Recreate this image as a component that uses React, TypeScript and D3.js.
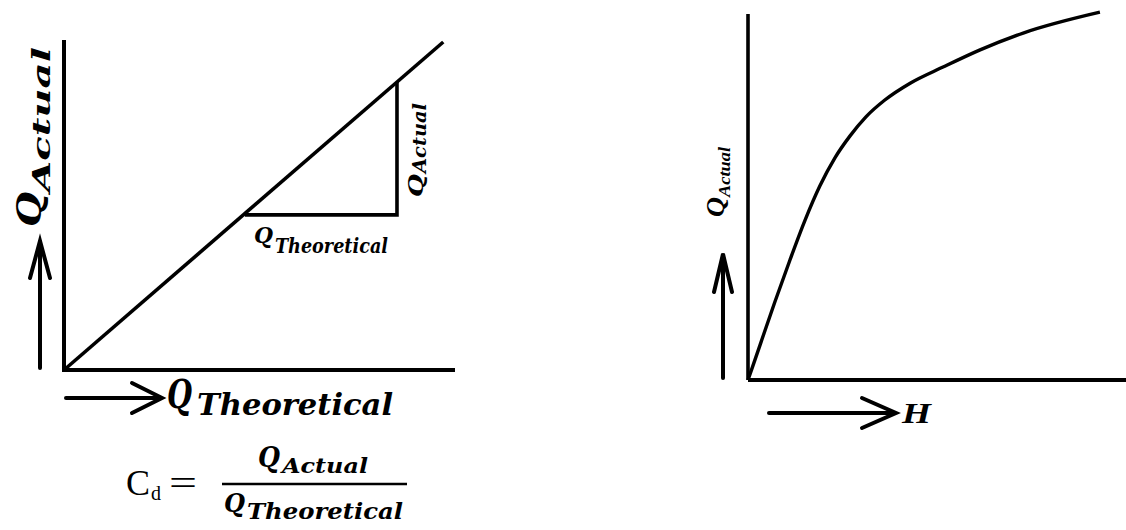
import React from "react";
import * as d3 from "d3";

// Left chart: Q_actual vs Q_theoretical (straight line through origin)
const lineTheoretical = [0, 97.5];
const lineActual = [0, 100];
// slope triangle
const triTheoretical = [46.5, 85.6, 85.6];
const triActual = [47.3, 47.3, 87.8];

// Right chart: Q_actual vs H
const headH = [0, 3.2, 7.1, 11.1, 15.1, 19.0, 23.0, 27.0, 31.2, 36.2, 42.9, 51.6, 61.4, 72.8, 93.1];
const flowQ = [0, 9.6, 21.3, 32.8, 43.7, 53.0, 60.7, 66.7, 71.9, 76.5, 81.1, 85.5, 90.2, 94.8, 100.5];

const MATH = "'DejaVu Serif', serif";
const TIMES = "'Liberation Serif', 'Times New Roman', serif";

export default function App() {
  const W = 1126, H = 530;
  const xL = d3.scaleLinear().domain([0, 100]).range([64, 453]);
  const yL = d3.scaleLinear().domain([0, 100]).range([370, 42]);
  const xR = d3.scaleLinear().domain([0, 100]).range([748, 1126]);
  const yR = d3.scaleLinear().domain([0, 100]).range([380, 14]);

  const lineGen = d3.line<[number, number]>().x(d => xL(d[0])).y(d => yL(d[1]));
  const diag = lineGen(lineTheoretical.map((v, i) => [v, lineActual[i]] as [number, number]));
  const tri = lineGen(triTheoretical.map((v, i) => [v, triActual[i]] as [number, number]));

  const curveGen = d3.line<[number, number]>().x(d => xR(d[0])).y(d => yR(d[1])).curve(d3.curveMonotoneX);
  const curve = curveGen(headH.map((v, i) => [v, flowQ[i]] as [number, number]));

  const bi = { fontWeight: "bold", fontStyle: "italic" } as const;

  return (
    <svg width={W} height={H} style={{ position: "absolute", left: 0, top: 0, background: "#fff" }}>
      <rect width={W} height={H} fill="#fff" />
      {/* LEFT CHART */}
      <g stroke="#000" fill="none" strokeLinecap="square">
        <line x1={xL(0)} y1={yL(0)} x2={xL(0)} y2={yL(100)} strokeWidth={4} />
        <line x1={xL(0)} y1={yL(0)} x2={xL(100)} y2={yL(0)} strokeWidth={4} />
        <path d={diag!} strokeWidth={3.6} strokeLinecap="butt" />
        <path d={tri!} strokeWidth={3.6} strokeLinejoin="miter" strokeLinecap="butt" />
      </g>
      {/* left arrows */}
      <g stroke="#000" fill="none" strokeWidth={4} strokeLinecap="round" strokeLinejoin="miter">
        <line x1={40} y1={368} x2={40} y2={242} />
        <polyline points="30,278 40,241 50,278" />
        <line x1={66} y1={398} x2={160} y2={398} />
        <polyline points="132,383 162,398 132,413" />
      </g>
      <g fill="#000" fontFamily={MATH} {...bi}>
        {/* y label */}
        <text transform="translate(41,227) rotate(-90)" fontSize={34} textLength={35} lengthAdjust="spacingAndGlyphs">Q</text>
        <text transform="translate(50,192) rotate(-90)" fontSize={25} textLength={145} lengthAdjust="spacingAndGlyphs">Actual</text>
        {/* x label */}
        <text x={167} y={408} fontSize={40} textLength={25} lengthAdjust="spacingAndGlyphs">Q</text>
        <text x={197} y={415} fontSize={30} textLength={196} lengthAdjust="spacingAndGlyphs">Theoretical</text>
        {/* triangle labels */}
        <text x={254} y={243} fontSize={22} textLength={19} lengthAdjust="spacingAndGlyphs">Q</text>
        <text x={275} y={253} fontSize={21} textLength={113} lengthAdjust="spacingAndGlyphs">Theoretical</text>
        <text transform="translate(423,197) rotate(-90)" fontSize={21} textLength={23} lengthAdjust="spacingAndGlyphs">Q</text>
        <text transform="translate(426,173) rotate(-90)" fontSize={18} textLength={70} lengthAdjust="spacingAndGlyphs">Actual</text>
      </g>
      {/* formula */}
      <g fill="#000">
        <text x={126} y={495} fontFamily={TIMES} fontSize={36}>C</text>
        <text x={151} y={500} fontFamily={TIMES} fontSize={20}>d</text>
        <text x={169} y={495} fontFamily={TIMES} fontSize={36} textLength={28} lengthAdjust="spacingAndGlyphs">=</text>
        <line x1={222} y1={484} x2={407} y2={484} stroke="#000" strokeWidth={2.5} />
        <g fontFamily={MATH} {...bi}>
          <text x={258} y={467} fontSize={27} textLength={22} lengthAdjust="spacingAndGlyphs">Q</text>
          <text x={282} y={473} fontSize={21} textLength={86} lengthAdjust="spacingAndGlyphs">Actual</text>
          <text x={224} y={512} fontSize={26} textLength={21} lengthAdjust="spacingAndGlyphs">Q</text>
          <text x={247} y={519} fontSize={22} textLength={156} lengthAdjust="spacingAndGlyphs">Theoretical</text>
        </g>
      </g>

      {/* RIGHT CHART */}
      <g stroke="#000" fill="none">
        <line x1={xR(0)} y1={yR(0)} x2={xR(0)} y2={yR(100)} strokeWidth={3.6} />
        <line x1={xR(0)} y1={yR(0)} x2={xR(100)} y2={yR(0)} strokeWidth={4} />
        <path d={curve!} strokeWidth={3.4} />
      </g>
      <g stroke="#000" fill="none" strokeWidth={4} strokeLinecap="round">
        <line x1={723} y1={378} x2={723} y2={255} />
        <polyline points="714,292 723,254 732,292" />
        <line x1={769} y1={413} x2={894} y2={413} />
        <polyline points="862,398 896,413 862,428" />
      </g>
      <g fill="#000" fontFamily={TIMES} {...bi}>
        <text transform="translate(724,217) rotate(-90)" fontSize={26} textLength={20} lengthAdjust="spacingAndGlyphs">Q</text>
        <text transform="translate(730,197) rotate(-90)" fontSize={17} textLength={50} lengthAdjust="spacingAndGlyphs">Actual</text>
        <text x={902} y={423} fontSize={30} textLength={29} lengthAdjust="spacingAndGlyphs">H</text>
      </g>
    </svg>
  );
}
